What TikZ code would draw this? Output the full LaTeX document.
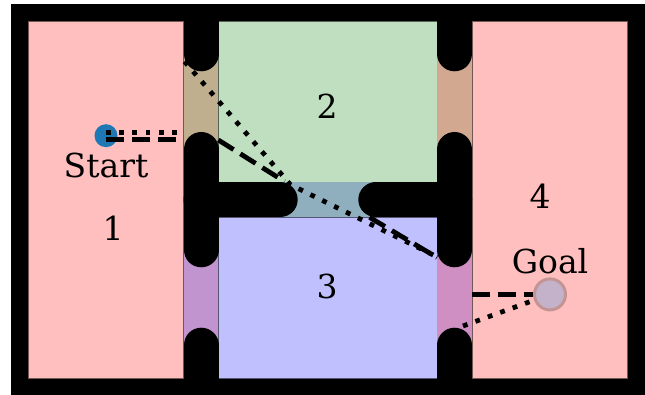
\documentclass[tikz,border=0pt]{standalone}
\usepackage{fontspec}
\setmainfont{DejaVu Serif}
\definecolor{roompink}{HTML}{FFBFBF}
\definecolor{roomgreen}{HTML}{C0DFC0}
\definecolor{roomblue}{HTML}{C0C0FF}
\definecolor{doortan}{HTML}{C0AF8F}
\definecolor{doorsalmon}{HTML}{D2A890}
\definecolor{doorslate}{HTML}{8FAFBF}
\definecolor{doorviolet}{HTML}{C193CF}
\definecolor{doormauve}{HTML}{CF8FC3}
\definecolor{startblue}{HTML}{1F77B4}
\definecolor{goalfill}{HTML}{C4B2CA}
\definecolor{goaledge}{HTML}{C49494}
\usepackage{tikz}

\begin{document}
\begin{tikzpicture}[x=1pt, y=-1pt,
        room/.style={line width=0.7pt},
        wall/.style={black, line width=35pt, line cap=round},
        plandash/.style={black, line width=4.8pt,
                         dash pattern=on 18pt off 8pt},
        plandot/.style={black, line width=4.8pt,
                        dash pattern=on 4.8pt off 8.4pt},
        roomtext/.style={font=\fontsize{33}{40}\selectfont, inner sep=0pt}
      ]
        \useasboundingbox (0,0) rectangle (645,395);
        % Outer frame
        \fill[black] (11,4) rectangle (645,395);
        % Rooms
        \filldraw[room, fill=roompink, draw=roompink!45!black]
          (28.7,21.7) rectangle (183.7,378.3);
        \filldraw[room, fill=roomgreen, draw=roomgreen!45!black]
          (218.3,21.7) rectangle (437,182.3);
        \filldraw[room, fill=roomblue, draw=roomblue!45!black]
          (218.3,217.3) rectangle (437,378.3);
        \filldraw[room, fill=roompink, draw=roompink!45!black]
          (472.3,21.7) rectangle (627.7,378.3);
        % Doors
        \fill[doortan]    (183.7,53.8)  rectangle (218.3,149.5);
        \fill[doorviolet] (183.7,249.8) rectangle (218.3,345.2);
        \fill[doorslate]  (280.2,182.3) rectangle (375.8,217.3);
        \fill[doorsalmon] (437,53.8)    rectangle (472.3,149.5);
        \fill[doormauve]  (437,249.8)   rectangle (472.3,345.2);
        % Start and goal
        \node[circle, fill=startblue, minimum size=23pt, inner sep=0pt]
          (start) at (106,135.7) {};
        \node[circle, fill=goalfill, draw=goaledge, line width=3pt,
              minimum size=31pt, inner sep=0pt]
          (goal) at (550,294.4) {};
        % Path points
        \coordinate (s1) at (106,132.5);
        \coordinate (s2) at (106,139.5);
        \coordinate (p1) at (183.7,132.5);
        \coordinate (p2) at (184.5,61.5);
        \coordinate (p3) at (290.4,184.7);
        \coordinate (p4) at (437,256.8);
        \coordinate (p5) at (463,326);
        \coordinate (q1) at (183.7,139.5);
        \coordinate (q2) at (218.3,140);
        \coordinate (q3) at (284.5,181.5);
        \coordinate (q4) at (369.5,217.3);
        \coordinate (q5) at (437,257.5);
        \coordinate (q6) at (472.3,294.4);
        % Dotted plan
        \draw[plandot] (s1) -- (p1);
        \draw[plandot] (p2) -- (p3) -- (p4);
        \draw[plandot] (p5) -- (goal);
        % Dashed plan
        \draw[plandash] (s2) -- (q1);
        \draw[plandash] (q2) -- (q3);
        \draw[plandash] (q4) -- (q5);
        \draw[plandash] (q6) -- (goal);
        % Walls
        \draw[wall] (201,22)    -- (201,53.8);
        \draw[wall] (201,149.5) -- (201,249.8);
        \draw[wall] (201,345.2) -- (201,377);
        \draw[wall] (454.6,22)    -- (454.6,53.8);
        \draw[wall] (454.6,149.5) -- (454.6,249.8);
        \draw[wall] (454.6,345.2) -- (454.6,377);
        \draw[wall] (201,199.8)   -- (280.2,199.8);
        \draw[wall] (375.8,199.8) -- (454.6,199.8);
        % Labels
        \node[roomtext] (r1) at (113,228.5) {1};
        \node[roomtext] (r2) at (327,106.5) {2};
        \node[roomtext] (r3) at (327,286.5) {3};
        \node[roomtext] (r4) at (540,195.8) {4};
        \node[roomtext, anchor=base] (startlbl) at (106,178) {Start};
        \node[roomtext, anchor=base] (goallbl) at (550,273.3) {Goal};
      \end{tikzpicture}
\end{document}
